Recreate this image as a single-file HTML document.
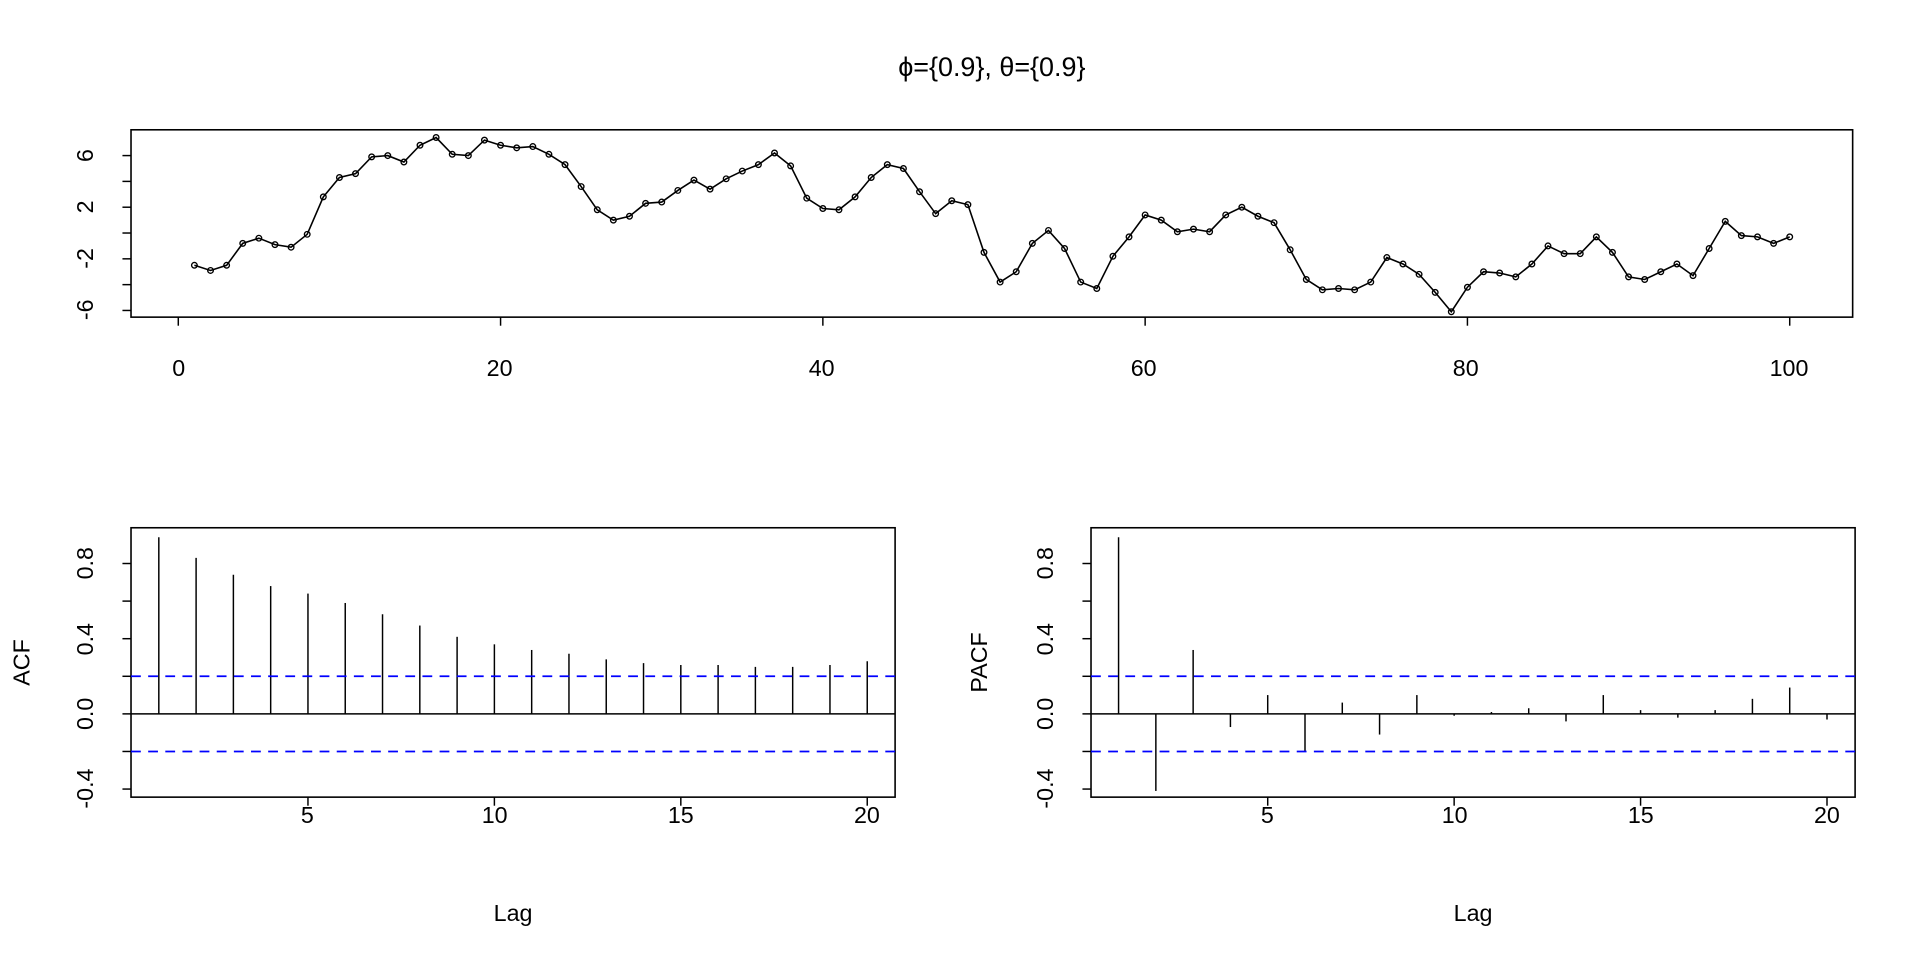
<!DOCTYPE html>
<html><head><style>html,body{margin:0;padding:0;background:#fff}svg{display:block}</style></head>
<body>
<svg id="s" width="1920" height="960" viewBox="0 0 1568 784" xmlns="http://www.w3.org/2000/svg" font-family="Liberation Sans, sans-serif" fill="none">
<rect x="0" y="0" width="1568" height="784" fill="#fff"/>
<text x="810" y="62" font-size="22" fill="#000" text-anchor="middle">ϕ={0.9}, θ={0.9}</text>
<rect x="107" y="106" width="1406" height="153" stroke="#000" stroke-width="1.3"/>
<g font-size="19" fill="#000" text-anchor="middle">
<text x="146" y="307">0</text><text x="408" y="307">20</text><text x="671" y="307">40</text><text x="934" y="307">60</text><text x="1197" y="307">80</text><text x="1461" y="307">100</text>
<text transform="translate(76,127) rotate(-90)">6</text>
<text transform="translate(76,169) rotate(-90)">2</text>
<text transform="translate(76,211) rotate(-90)">-2</text>
<text transform="translate(76,253) rotate(-90)">-6</text>
</g>
<rect x="107" y="431" width="624" height="220" stroke="#000" stroke-width="1.3"/>
<rect x="891" y="431" width="624" height="220" stroke="#000" stroke-width="1.3"/>
<g font-size="19" fill="#000" text-anchor="middle">
<text x="251" y="672">5</text><text x="404" y="672">10</text><text x="556" y="672">15</text><text x="708" y="672">20</text>
<text x="1035" y="672">5</text><text x="1188" y="672">10</text><text x="1340" y="672">15</text><text x="1492" y="672">20</text>
<text x="419" y="752">Lag</text><text x="1203" y="752">Lag</text>
<text transform="translate(24,541) rotate(-90)">ACF</text>
<text transform="translate(806,541) rotate(-90)">PACF</text>
<text transform="translate(76,460) rotate(-90)">0.8</text>
<text transform="translate(76,522) rotate(-90)">0.4</text>
<text transform="translate(76,583) rotate(-90)">0.0</text>
<text transform="translate(76,644) rotate(-90)">-0.4</text>
<text transform="translate(860,460) rotate(-90)">0.8</text>
<text transform="translate(860,522) rotate(-90)">0.4</text>
<text transform="translate(860,583) rotate(-90)">0.0</text>
<text transform="translate(860,644) rotate(-90)">-0.4</text>
</g>
<g id="g" stroke="#000" stroke-width="1.2"></g>
</svg>
<script>
var g=document.getElementById('g'),NS='http://www.w3.org/2000/svg';
function el(t,a){var e=document.createElementNS(NS,t);for(var k in a)e.setAttribute(k,a[k]);g.appendChild(e);return e;}
function ln(x1,y1,x2,y2,extra){var a={x1:x1,y1:y1,x2:x2,y2:y2};if(extra)for(var k in extra)a[k]=extra[k];return el('line',a);}
var d=[-2.5,-2.9,-2.5,-0.8,-0.4,-0.9,-1.1,-0.1,2.8,4.3,4.6,5.9,6.0,5.5,6.8,7.4,6.1,6.0,7.2,6.8,6.6,6.7,6.1,5.3,3.6,1.8,1.0,1.3,2.3,2.4,3.3,4.1,3.4,4.2,4.8,5.3,6.2,5.2,2.7,1.9,1.8,2.8,4.3,5.3,5.0,3.2,1.5,2.5,2.2,-1.5,-3.8,-3.0,-0.8,0.2,-1.2,-3.8,-4.3,-1.8,-0.3,1.4,1.0,0.1,0.3,0.1,1.4,2.0,1.3,0.8,-1.3,-3.6,-4.4,-4.3,-4.4,-3.8,-1.9,-2.4,-3.2,-4.6,-6.1,-4.2,-3.0,-3.1,-3.4,-2.4,-1.0,-1.6,-1.6,-0.3,-1.5,-3.4,-3.6,-3.0,-2.4,-3.3,-1.2,0.9,-0.2,-0.3,-0.8,-0.3];
function X(i){return 145.6+13.16*i;} function Y(v){return 190.3-10.54*v;}
var pts=d.map(function(v,i){return X(i+1)+','+Y(v);}).join(' ');
el('polyline',{points:pts,'stroke-width':1.3});
d.forEach(function(v,i){el('circle',{cx:X(i+1),cy:Y(v),r:2.3,'stroke-width':1.1});});
[0,20,40,60,80,100].forEach(function(t){ln(X(t),259,X(t),266);});
for(var t=-6;t<=6;t+=2)ln(100,Y(t),107,Y(t));
function AY(v){return 583-153.5*v;}
var acf=[0.94,0.83,0.74,0.68,0.64,0.59,0.53,0.47,0.41,0.37,0.34,0.32,0.29,0.27,0.26,0.26,0.25,0.25,0.26,0.28];
var pacf=[0.94,-0.41,0.34,-0.07,0.10,-0.20,0.06,-0.11,0.10,-0.01,0.01,0.03,-0.04,0.10,0.02,-0.02,0.02,0.08,0.14,-0.03];
function panel(x0,lag1,vals){
  var s=30.45;
  ln(x0,583,x0+624,583);
  vals.forEach(function(v,i){var x=lag1+s*i;ln(x,583,x,AY(v));});
  [5,10,15,20].forEach(function(l){var x=lag1+s*(l-1);ln(x,651,x,658);});
  [-0.4,-0.2,0,0.2,0.4,0.6,0.8].forEach(function(v){ln(x0-7,AY(v),x0,AY(v));});
  [0.2,-0.2].forEach(function(v){ln(x0,AY(v),x0+624,AY(v),{stroke:'#0000ff','stroke-dasharray':'8,6','stroke-width':1.4});});
}
panel(107,129.7,acf);
panel(891,913.5,pacf);
</script>
</body></html>
